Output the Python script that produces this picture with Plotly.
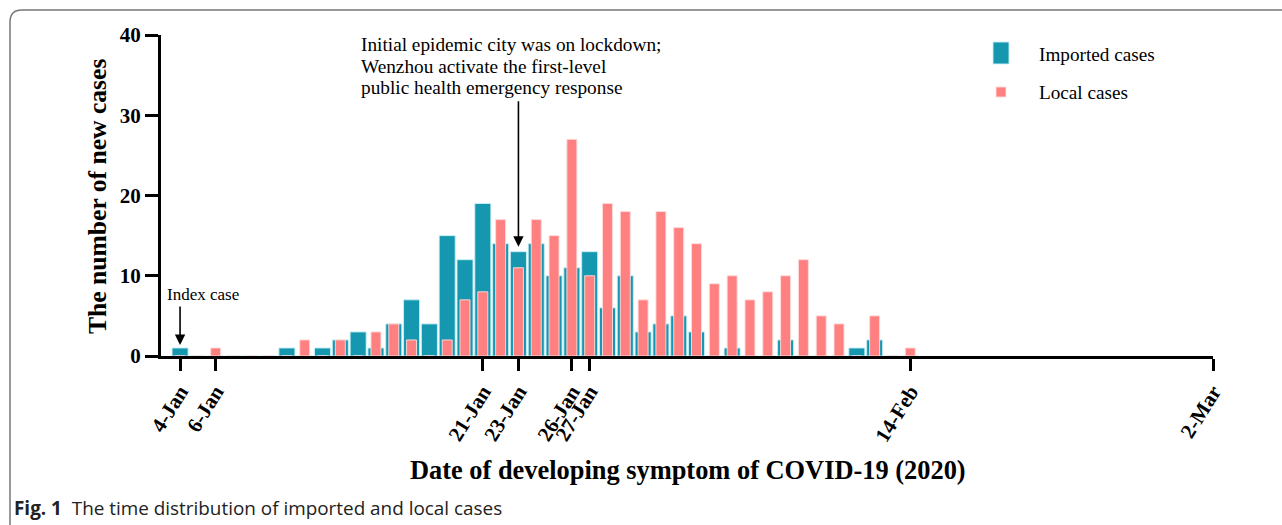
import pandas as pd
import plotly.graph_objects as go

# ---- data ----
dates = pd.date_range("2020-01-04", periods=42, freq="D")
imported = [1, 0, 0, 0, 0, 0, 1, 0, 1, 2, 3, 1, 4, 7, 4, 15, 12, 19, 14, 13, 14,
            10, 11, 13, 6, 10, 3, 4, 5, 3, 0, 1, 0, 0, 2, 0, 0, 0, 1, 2, 0, 0]
local = [0, 0, 1, 0, 0, 0, 0, 2, 0, 2, 0, 3, 4, 2, 0, 2, 7, 8, 17, 11, 17,
         15, 27, 10, 19, 18, 7, 18, 16, 14, 9, 10, 7, 8, 10, 12, 5, 4, 0, 5, 0, 1]
tick_dates = ["2020-01-04", "2020-01-06", "2020-01-21", "2020-01-23",
              "2020-01-26", "2020-01-27", "2020-02-14", "2020-03-02"]
tick_labels = ["4-Jan", "6-Jan", "21-Jan", "23-Jan", "26-Jan", "27-Jan", "14-Feb", "2-Mar"]
y_ticks = [0, 10, 20, 30, 40]
note_lines = ["Initial epidemic city was on lockdown;",
              "Wenzhou activate the first-level",
              "public health emergency response"]

TEAL = "#1597B0"
PINK = "#FF8080"
DAY_MS = 86400000

W, H = 1282, 525
L, R, T, B = 161, 69, 35, 169
PW, PH = W - L - R, H - T - B


def px(x):
    return (x - L) / PW


def py(y):
    return (H - B - y) / PH


fig = go.Figure()
fig.add_trace(go.Bar(x=dates, y=imported, name="Imported cases", width=0.9 * DAY_MS,
                     marker=dict(color=TEAL, line=dict(color="rgba(200,240,245,0.9)", width=1)),
                     showlegend=False))
fig.add_trace(go.Bar(x=dates, y=local, name="Local cases", width=0.56 * DAY_MS,
                     marker=dict(color=PINK, line=dict(color="rgba(255,220,220,0.9)", width=1)),
                     showlegend=False))

x0 = pd.Timestamp("2020-01-04") - pd.Timedelta(days=1.07)
x1 = pd.Timestamp("2020-03-02")

serif = "Liberation Serif, Times New Roman, serif"

fig.update_layout(
    width=W, height=H,
    margin=dict(l=L, r=R, t=T, b=B, autoexpand=False),
    barmode="overlay",
    plot_bgcolor="white", paper_bgcolor="white",
    font=dict(family=serif, color="black"),
    xaxis=dict(range=[x0, x1], tickvals=tick_dates, ticktext=tick_labels, automargin=False,
               tickangle=-58, ticks="outside", ticklen=12, tickwidth=3, tickcolor="black",
               showline=True, linecolor="black", linewidth=3, showgrid=False, zeroline=False,
               tickfont=dict(family=serif, size=21, color="black", weight="bold")),
    yaxis=dict(range=[0, 40], tickvals=y_ticks, ticks="outside", ticklen=13, tickwidth=3,
               automargin=False, ticklabelstandoff=0,
               tickcolor="black", showline=True, linecolor="black", linewidth=3,
               showgrid=False, zeroline=False,
               tickfont=dict(family=serif, size=21, color="black", weight="bold")),
)

annotations = [
    dict(text="<b>Date of developing symptom of COVID-19 (2020)</b>", xref="paper", yref="paper",
         x=px(688), y=py(470), xanchor="center", yanchor="middle", showarrow=False,
         font=dict(size=26.4, family=serif)),
    dict(text="<b>The number of new cases</b>", xref="paper", yref="paper",
         x=px(97), y=py(197), xanchor="center", yanchor="middle", showarrow=False,
         textangle=-90, font=dict(size=25.6, family=serif)),
    dict(text="", x="2020-01-23", y=(H - B - 247) / 8, xref="x", yref="y", showarrow=True,
         ax=0, ay=-147, arrowhead=2, arrowsize=1.3, arrowwidth=1.6, arrowcolor="black"),
    dict(text="Index case", xref="paper", yref="paper", x=px(165), y=py(294), xanchor="left",
         yanchor="middle", showarrow=False, font=dict(size=17, family=serif)),
    dict(text="", x="2020-01-04", y=(H - B - 345) / 8, xref="x", yref="y", showarrow=True,
         ax=0, ay=-40, arrowhead=2, arrowsize=1.3, arrowwidth=1.6, arrowcolor="black"),
    dict(text="Imported cases", xref="paper", yref="paper", x=px(1037), y=py(54), xanchor="left",
         yanchor="middle", showarrow=False, font=dict(size=19.2, family=serif)),
    dict(text="Local cases", xref="paper", yref="paper", x=px(1037), y=py(92), xanchor="left",
         yanchor="middle", showarrow=False, font=dict(size=19.2, family=serif)),
    dict(text="<b>Fig. 1</b>  The time distribution of imported and local cases", xref="paper",
         yref="paper", x=px(12), y=py(508), xanchor="left", yanchor="middle", showarrow=False,
         font=dict(size=18.9, family="Open Sans, Noto Sans, sans-serif", color="#222")),
]
for line, ypix in zip(note_lines, [44, 66, 87]):
    annotations.append(dict(text=line, xref="paper", yref="paper", x=px(359), y=py(ypix),
                            xanchor="left", yanchor="middle", showarrow=False,
                            font=dict(size=19.3, family=serif)))
fig.update_layout(annotations=annotations)

shapes = [
    dict(type="rect", xref="paper", yref="paper", x0=px(993), x1=px(1009), y0=py(42), y1=py(64),
         fillcolor=TEAL, line=dict(color="rgba(200,240,245,0.9)", width=1)),
    dict(type="rect", xref="paper", yref="paper", x0=px(996), x1=px(1006), y0=py(87), y1=py(97),
         fillcolor=PINK, line=dict(color="rgba(255,220,220,0.9)", width=1)),
    dict(type="path", xref="paper", yref="paper",
         path=f"M {px(10)},{py(530)} L {px(10)},{py(22)} Q {px(10)},{py(10)} {px(22)},{py(10)} L {px(1290)},{py(10)}",
         line=dict(color="#777", width=1.5)),
]
fig.update_layout(shapes=shapes)

fig.write_html("out.html", config={"displayModeBar": False},
               post_script="document.body.style.margin='0';document.body.style.overflow='hidden';")
